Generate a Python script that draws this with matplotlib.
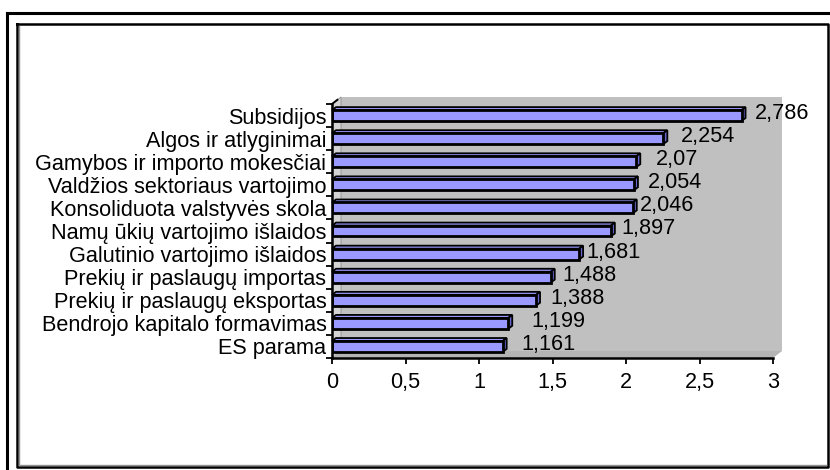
import matplotlib
matplotlib.use("Agg")
import matplotlib.pyplot as plt
from matplotlib.patches import Polygon
from matplotlib.lines import Line2D

plt.rcParams['font.family'] = ['Liberation Sans', 'DejaVu Sans']

categories = [
    'Subsidijos',
    'Algos ir atlyginimai',
    'Gamybos ir importo mokesčiai',
    'Valdžios sektoriaus vartojimo',
    'Konsoliduota valstyvės skola',
    'Namų ūkių vartojimo išlaidos',
    'Galutinio vartojimo išlaidos',
    'Prekių ir paslaugų importas',
    'Prekių ir paslaugų eksportas',
    'Bendrojo kapitalo formavimas',
    'ES parama',
]
values = [2.786, 2.254, 2.07, 2.054, 2.046, 1.897, 1.681, 1.488, 1.388, 1.199, 1.161]
value_labels = ['2,786', '2,254', '2,07', '2,054', '2,046', '1,897',
                '1,681', '1,488', '1,388', '1,199', '1,161']
x_ticks = [0, 0.5, 1, 1.5, 2, 2.5, 3]
x_tick_labels = ['0', '0,5', '1', '1,5', '2', '2,5', '3']

# horizontal gap (px) between bar end and its label
label_pad = [13, 18, 20, 14, 7, 11, 7, 12, 14, 23, 19]

FS = 15.6
W, H = 830, 470
fig = plt.figure(figsize=(W / 100, H / 100), dpi=100)
fig.patch.set_facecolor('white')

# plot area in pixels: x=0 at 332, x=3 at 773, categories from y=104 to y=358
ax = fig.add_axes([332 / W, (H - 358) / H, (773 - 332) / W, (358 - 104) / H])
ax.set_facecolor('none')
n = len(categories)
ax.set_xlim(0, 3)
ax.set_ylim(n - 0.5, -0.5)
for s in ax.spines.values():
    s.set_visible(False)

# 3D depth of walls, in data units
px_x = 3 / (773 - 332)
px_y = n / (358 - 104)
wdx, wdy = 9 * px_x, 7 * px_y
top, bot = -0.5, n - 0.5

wall = Polygon([(wdx, top - wdy), (3 + wdx, top - wdy), (3 + wdx, bot - wdy), (wdx, bot - wdy)],
               closed=True, facecolor='#c0c0c0', edgecolor='none', zorder=0, clip_on=False)
side = Polygon([(0, top), (wdx, top - wdy), (wdx, bot - wdy), (0, bot)],
               closed=True, facecolor='#d4d4d4', edgecolor='#909090', lw=0.6, zorder=0.5, clip_on=False)
floor = Polygon([(0, bot), (3, bot), (3 + wdx, bot - wdy), (wdx, bot - wdy)],
                closed=True, facecolor='#b4b4b4', edgecolor='none', zorder=0.5, clip_on=False)
for p in (wall, side, floor):
    ax.add_patch(p)

# bars: front face from barh, top and side faces from the same values
h = 0.47
bdx, bdy = 4 * px_x, 3 * px_y
ys = list(range(n))
ax.barh(ys, values, height=h, color='#9999ff', edgecolor='black', linewidth=2.0, zorder=3)
for y, v in zip(ys, values):
    y0, y1 = y - h / 2, y + h / 2
    topface = Polygon([(0, y0), (v, y0), (v + bdx, y0 - bdy), (bdx, y0 - bdy)], closed=True,
                      facecolor='#9999ff', edgecolor='black', lw=1.3, zorder=2.5, clip_on=False)
    rface = Polygon([(v, y0), (v + bdx, y0 - bdy), (v + bdx, y1 - bdy), (v, y1)], closed=True,
                    facecolor='#6666cc', edgecolor='black', lw=1.3, zorder=2.6, clip_on=False)
    ax.add_patch(topface)
    ax.add_patch(rface)

for y, v, lab, pad in zip(ys, values, value_labels, label_pad):
    ax.annotate(lab, (v, y), xytext=(pad * 0.72, 1.5), textcoords='offset points',
                ha='left', va='center', fontsize=FS, zorder=5, annotation_clip=False)

# axis lines
ax.plot([0, 0], [top, bot], color='black', lw=1.8, zorder=4, clip_on=False)
ax.plot([0, 3], [bot, bot], color='black', lw=1.8, zorder=4, clip_on=False)
ax.plot([0, 0.6 * wdx], [top, top - 0.6 * wdy], color='black', lw=1.4, zorder=4, clip_on=False)

ax.set_xticks(x_ticks)
ax.set_xticklabels(x_tick_labels, fontsize=FS)
ax.tick_params(axis='x', direction='out', length=4, width=1.3, pad=6)
ax.set_yticks(ys)
ax.set_yticklabels(categories, fontsize=FS)
ax.tick_params(axis='y', which='major', length=0, pad=4)
ax.set_yticks([k - 0.5 for k in range(n + 1)], minor=True)
ax.tick_params(axis='y', which='minor', direction='out', length=4, width=1.3)

# frames around the chart
def fx(px):
    return px / W


def fy(py):
    return 1 - py / H


frame_lines = [
    ([7, W], [13, 13], 'black', 2.2),
    ([7, 7], [13, H], 'black', 2.2),
    ([17, 828, 828, 17, 17], [24, 24, 467, 467, 24], 'black', 1.8),
    ([19, 19], [26, 465], '#909090', 1.0),
    ([19, 826], [465, 465], '#909090', 1.0),
]
for xs, yv, c, lw in frame_lines:
    fig.add_artist(Line2D([fx(x) for x in xs], [fy(y) for y in yv], color=c, lw=lw,
                          transform=fig.transFigure))

fig.savefig('out.png', dpi=100)
